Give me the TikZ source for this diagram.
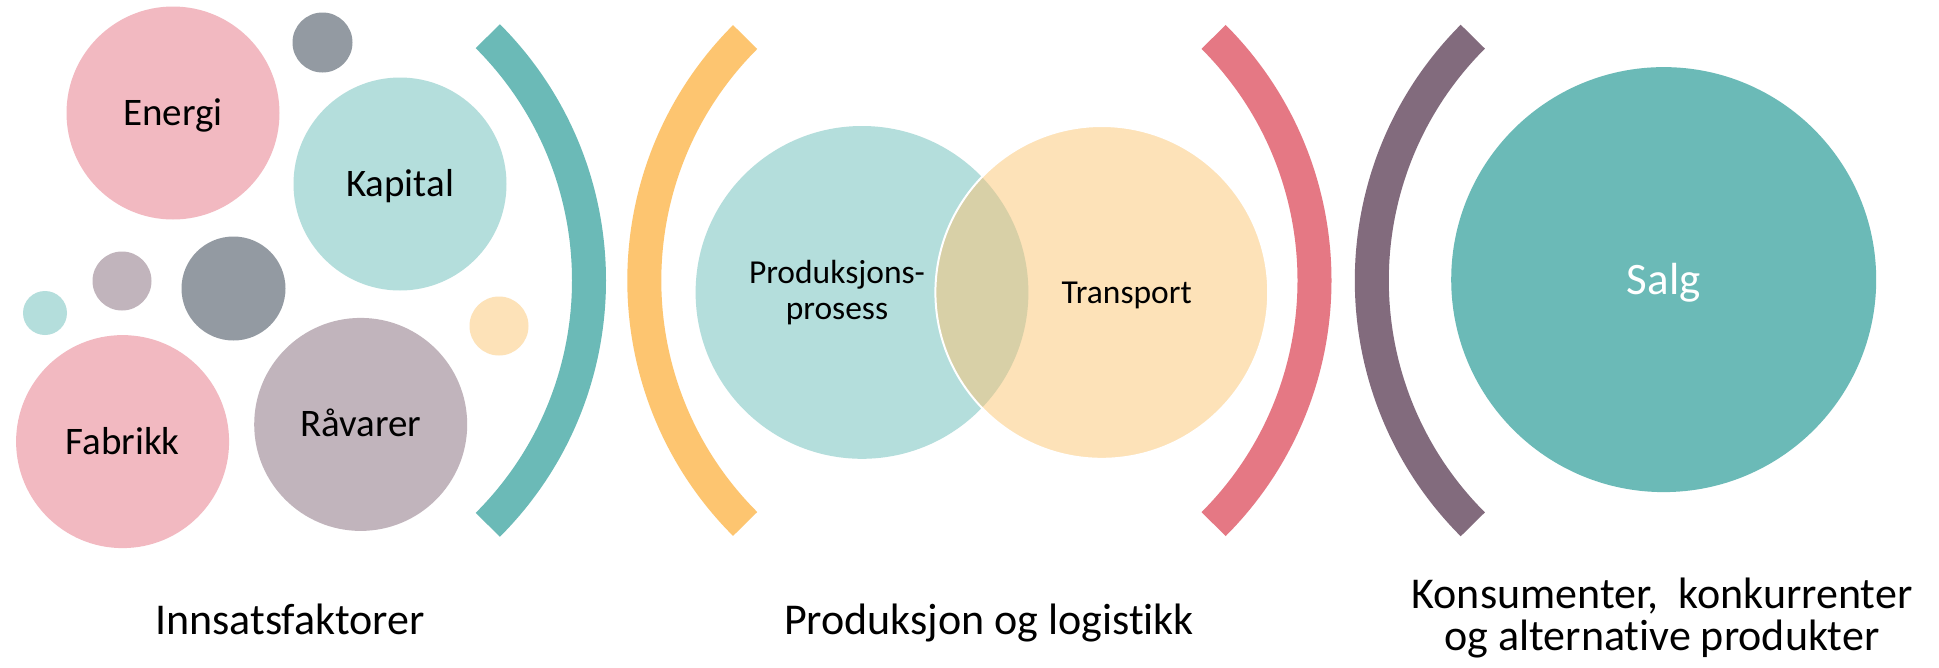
\documentclass[tikz,border=0pt]{standalone}
\usepackage{fontspec}
\setmainfont{Carlito}[Ligatures=NoCommon]
\definecolor{pinkL}{HTML}{F2B9C1}
\definecolor{tealL}{HTML}{B4DEDC}
\definecolor{greyD}{HTML}{939AA2}
\definecolor{mauveL}{HTML}{C1B4BC}
\definecolor{yellowL}{HTML}{FDE2B8}
\definecolor{tealD}{HTML}{6BBAB7}
\definecolor{yellowD}{HTML}{FDC570}
\definecolor{pinkD}{HTML}{E57884}
\definecolor{purpleD}{HTML}{826B7D}
\definecolor{lensC}{HTML}{D8D0A7}
\tikzset{
  bubble/.style={circle, inner sep=0pt, minimum size=#1},
  bubbletext/.style={font=\fontsize{39}{44}\selectfont, text height=25pt, text depth=0pt},
  venntext/.style={font=\fontsize{33.5}{36}\selectfont, align=center, inner sep=0pt},
  bracketarc/.style={line width=34pt},
  caption/.style={font=\fontsize{44}{42}\selectfont, align=center, inner sep=0pt, anchor=base},
}
\begin{document}
\begin{tikzpicture}[x=1pt, y=-1pt]
\useasboundingbox (0,0) rectangle (1939,667);
\fill[white] (0,0) rectangle (1939,667);

% input factors: bubbles
\node[bubble=213pt, fill=pinkL, bubbletext] (energi) at (173,113) {Energi};
\node[bubble=60pt, fill=greyD] (dotA) at (322.5,42.5) {};
\node[bubble=213pt, fill=tealL, bubbletext] (kapital) at (400,184) {Kapital};
\node[bubble=59pt, fill=mauveL] (dotB) at (122,281) {};
\node[bubble=104pt, fill=greyD] (dotC) at (233.5,288.5) {};
\node[bubble=44pt, fill=tealL] (dotD) at (45,313) {};
\node[bubble=59pt, fill=yellowL] (dotE) at (499,326) {};
\node[bubble=213pt, fill=pinkL, bubbletext] (fabrikk) at (122.6,441.6) {Fabrikk};
\node[bubble=213pt, fill=mauveL, bubbletext] (raavarer) at (360.7,424.4) {Råvarer};

% bracket arcs
\coordinate (cA) at (243.5,280.5);
\coordinate (cB) at (988.6,280.5);
\coordinate (cC) at (970,280.5);
\coordinate (cD) at (1716.6,280.5);
\draw[bracketarc, tealD] (cA) ++(-45:345.5) arc[start angle=-45, end angle=45, radius=345.5];
\draw[bracketarc, yellowD] (cB) ++(135:344.3) arc[start angle=135, end angle=225, radius=344.3];
\draw[bracketarc, pinkD] (cC) ++(-45:344.5) arc[start angle=-45, end angle=45, radius=344.5];
\draw[bracketarc, purpleD] (cD) ++(135:344.8) arc[start angle=135, end angle=225, radius=344.8];

% production and logistics: overlapping circles
\coordinate (pc) at (862,292.4);
\coordinate (tc) at (1101.8,292.4);
\fill[tealL] (pc) circle[radius=166.4];
\fill[yellowL] (tc) circle[radius=166.4];
\begin{scope}
  \clip (pc) circle[radius=166.4];
  \fill[lensC] (tc) circle[radius=166.4];
\end{scope}
\draw[white, line width=2pt] (tc) circle[radius=166.4];
\node[venntext, anchor=base] (prod) at (837,319.5) {Produksjons-\\prosess};
\node[venntext, anchor=base] (transport) at (1126.7,303) {Transport};

% sales
\node[bubble=425pt, fill=tealD, text=white, font=\fontsize{45}{50}\selectfont, text height=29pt, text depth=0pt] (salg) at (1663.7,279.6) {Salg};

% captions
\node[caption] (cap1) at (290,634) {Innsatsfaktorer};
\node[caption] (cap2) at (989,634) {Produksjon og logistikk};
\node[caption] (cap3) at (1662,650) {Konsumenter,~ konkurrenter\\og alternative produkter};
\end{tikzpicture}
\end{document}
